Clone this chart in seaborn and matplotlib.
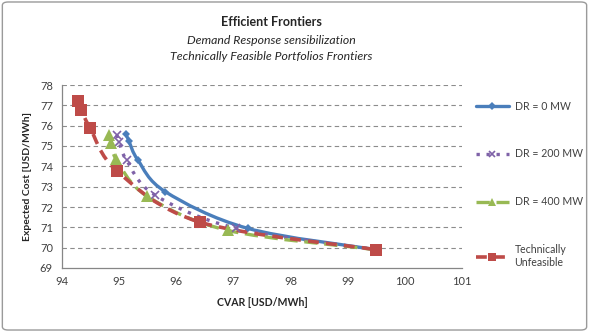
import numpy as np
import pandas as pd
import matplotlib.pyplot as plt
import seaborn as sns
from matplotlib.patches import FancyBboxPatch, PathPatch
from matplotlib.path import Path
from matplotlib.lines import Line2D

sns.set_theme(style="white")
plt.rcParams['font.family'] = ['Lato', 'DejaVu Sans']

# Data (CVAR, expected cost)
series_names = ['DR = 0 MW', 'DR = 200 MW', 'DR = 400 MW', 'Technically\nUnfeasible']
cvar_dr0 = [95.12, 95.17, 95.33, 95.81, 97.25, 99.5]
cost_dr0 = [75.6, 75.25, 74.3, 72.75, 70.95, 69.9]
cvar_dr200 = [94.96, 95.0, 95.13, 95.62, 97.05, 99.5]
cost_dr200 = [75.55, 75.2, 74.3, 72.6, 70.95, 69.9]
cvar_dr400 = [94.82, 94.86, 94.95, 95.48, 96.9, 99.5]
cost_dr400 = [75.55, 75.15, 74.35, 72.55, 70.85, 69.9]
cvar_unf = [94.28, 94.34, 94.49, 94.97, 96.42, 99.5]
cost_unf = [77.2, 76.75, 75.9, 73.75, 71.25, 69.9]

x_ticks = [94, 95, 96, 97, 98, 99, 100, 101]
y_ticks = [69, 70, 71, 72, 73, 74, 75, 76, 77, 78]

df = pd.concat([
    pd.DataFrame({'cvar': cvar_dr0, 'cost': cost_dr0, 'series': series_names[0]}),
    pd.DataFrame({'cvar': cvar_dr200, 'cost': cost_dr200, 'series': series_names[1]}),
    pd.DataFrame({'cvar': cvar_dr400, 'cost': cost_dr400, 'series': series_names[2]}),
    pd.DataFrame({'cvar': cvar_unf, 'cost': cost_unf, 'series': series_names[3]}),
])

styles = {
    series_names[0]: dict(color='#4a7ebb', ls='-', lw=2.4, marker='D', ms=4.5, mew=0),
    series_names[1]: dict(color='#7f62a8', ls=(0, (1, 2)), lw=2.4, marker='x', ms=6, mew=1.2),
    series_names[2]: dict(color='#98b954', ls=(0, (4, 2)), lw=2.4, marker='^', ms=8, mew=0),
    series_names[3]: dict(color='#be4b48', ls=(0, (3, 2)), lw=2.6, marker='s', ms=8, mew=0),
}


def smooth_path(xs, ys):
    # Excel-like smoothed line: cubic Bezier through the points (Catmull-Rom control points)
    p = np.column_stack([xs, ys])
    n = len(p)
    verts = [p[0]]
    codes = [Path.MOVETO]
    for i in range(n - 1):
        p0 = p[max(i - 1, 0)]
        p3 = p[min(i + 2, n - 1)]
        c1 = p[i] + (p[i + 1] - p0) / 6
        c2 = p[i + 1] - (p3 - p[i]) / 6
        verts += [c1, c2, p[i + 1]]
        codes += [Path.CURVE4] * 3
    return Path(verts, codes)


fig = plt.figure(figsize=(5.89, 3.32), dpi=100)
ax = fig.add_axes([62 / 589, 1 - 268 / 332, 400 / 589, 183 / 332])

handles = []
for name in series_names:
    sub = df[df['series'] == name]
    st = styles[name]
    ax.add_patch(PathPatch(smooth_path(sub['cvar'].values, sub['cost'].values),
                           fill=False, edgecolor=st['color'], linewidth=st['lw'],
                           linestyle=st['ls'], capstyle='butt'))
    sns.lineplot(data=sub, x='cvar', y='cost', ax=ax, sort=False, color=st['color'],
                 linestyle='', marker=st['marker'], markersize=st['ms'],
                 markeredgewidth=st['mew'], markeredgecolor=st['color'], legend=False)
    handles.append(Line2D([], [], color=st['color'], linestyle=st['ls'], linewidth=st['lw'],
                          marker=st['marker'], markersize=st['ms'] * 0.8,
                          markeredgewidth=st['mew'], markeredgecolor=st['color']))

ax.set_xlim(94, 101)
ax.set_ylim(69, 78)
ax.set_xticks(x_ticks)
ax.set_yticks(y_ticks)
ax.tick_params(labelsize=8, colors='#404040', length=3, color='#868686')
ax.tick_params(axis='x', length=0, pad=6)
for y in y_ticks[1:]:
    ax.axhline(y, color='#8c8c8c', lw=0.8, ls=(0, (4, 3)), zorder=0)
for side in ['top', 'right']:
    ax.spines[side].set_visible(False)
for side in ['left', 'bottom']:
    ax.spines[side].set_color('#868686')
    ax.spines[side].set_linewidth(0.9)

ax.set_xlabel('CVAR [USD/MWh]', fontsize=7.6, fontweight='bold', labelpad=7)
ax.set_ylabel('Expected Cost [USD/MWh]', fontsize=7.5, fontweight='bold', labelpad=6)

cx = 271 / 589
fig.text(cx, 1 - 22 / 332, 'Efficient Frontiers', ha='center', va='center',
         fontsize=9, fontweight='bold')
fig.text(cx, 1 - 40 / 332, 'Demand Response sensibilization', ha='center', va='center',
         fontsize=8.8, style='italic')
fig.text(cx, 1 - 57 / 332, 'Technically Feasible Portfolios Frontiers', ha='center',
         va='center', fontsize=8.8, style='italic')

fig.legend(handles, series_names, loc='upper left', bbox_to_anchor=(466 / 589, 1 - 91 / 332),
           frameon=False, fontsize=7.6, labelspacing=3.5, handlelength=3.2,
           handletextpad=0.5, labelcolor='#404040')

border = FancyBboxPatch((0.004, 0.006), 0.992, 0.988, boxstyle='round,pad=0,rounding_size=0.01',
                        transform=fig.transFigure, fill=False, edgecolor='#9a9a9a', lw=1.0)
fig.patches.append(border)

fig.savefig('out.png', dpi=100)
